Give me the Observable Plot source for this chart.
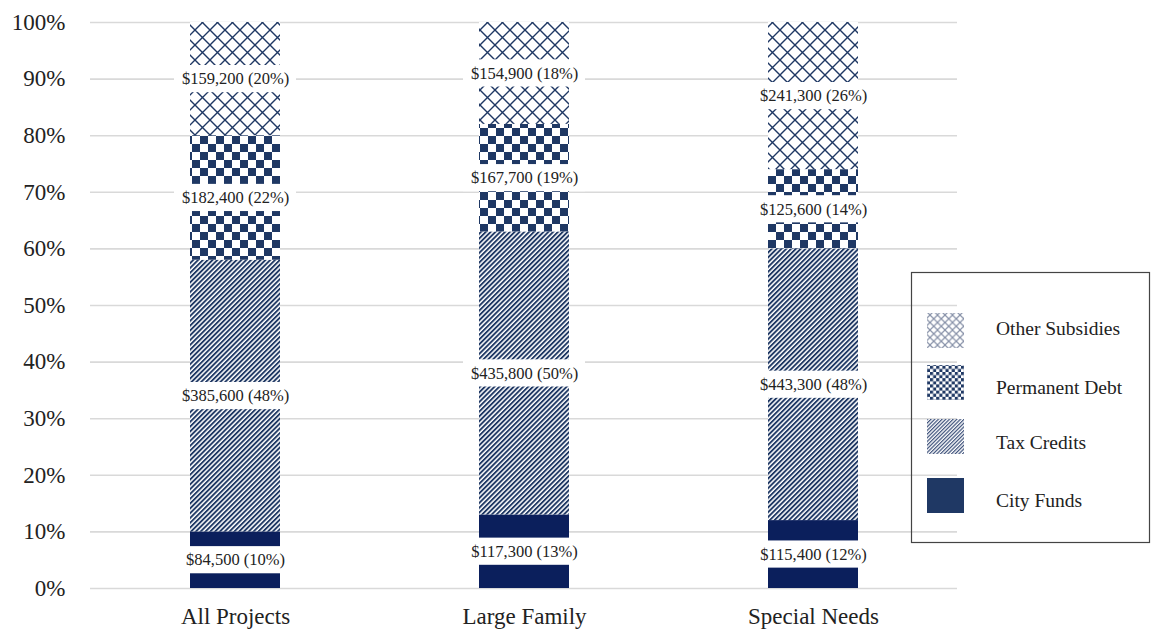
<!DOCTYPE html>
<html><head><meta charset="utf-8">
<script src="https://cdn.jsdelivr.net/npm/d3@7"></script>
<script src="https://cdn.jsdelivr.net/npm/@observablehq/plot@0.6"></script>
<style>
body{margin:0;background:#fff;}
#chart{position:relative;width:1152px;height:634px;}
</style></head><body><div id="chart"></div>
<script>
// ---- data ----
const categories = ["All Projects", "Large Family", "Special Needs"];
const seriesNames = ["City Funds", "Tax Credits", "Permanent Debt", "Other Subsidies"];
const cityFunds = [84500, 117300, 115400];
const cityPct = [10, 13, 12];
const taxCredits = [385600, 435800, 443300];
const taxPct = [48, 50, 48];
const permanentDebt = [182400, 167700, 125600];
const permanentPct = [22, 19, 14];
const otherSubsidies = [159200, 154900, 241300];
const otherPct = [20, 18, 26];
const yTicks = [0, 10, 20, 30, 40, 50, 60, 70, 80, 90, 100];

const amountsBySeries = [cityFunds, taxCredits, permanentDebt, otherSubsidies];
const pctBySeries = [cityPct, taxPct, permanentPct, otherPct];
const fills = ["#0b1f5c", "url(#pTax)", "url(#pPerm)", "url(#pOther)"];
const legendFills = ["#1f3864", "url(#lTax)", "url(#lPerm)", "url(#lOther)"];

const rows = [];
categories.forEach((c, i) => {
  let acc = 0;
  seriesNames.forEach((s, j) => {
    const p = pctBySeries[j][i];
    rows.push({category: c, series: s, si: j, amount: amountsBySeries[j][i], pct: p, y1: acc, y2: acc + p, mid: acc + p / 2});
    acc += p;
  });
});

const font = "'Liberation Serif', 'Times New Roman', serif";
const marks = [
  Plot.ruleY(yTicks, {stroke: "#d9d9d9", strokeWidth: 1.6})
];
seriesNames.forEach((s, j) => {
  marks.push(Plot.barY(rows.filter(d => d.si === j), {x: "category", y1: "y1", y2: "y2", fill: fills[j]}));
});
marks.push(
  Plot.barY(rows, {x: "category", y1: d => d.mid - 2.4, y2: d => d.mid + 2.4, fill: "white", insetLeft: -16, insetRight: -16}),
  Plot.text(rows, {x: "category", y: "mid", text: d => "$" + d3.format(",")(d.amount) + " (" + d.pct + "%)", fontSize: 16.5, fill: "#222"}),
  Plot.axisY({ticks: yTicks, tickSize: 0, tickPadding: 25, tickFormat: d => d + "%", fontSize: 23, label: null, color: "#222"}),
  Plot.axisX({tickSize: 0, tickPadding: 19, fontSize: 23, label: null, color: "#222"})
);

const svg = Plot.plot({
  width: 1152, height: 634,
  marginLeft: 90, marginRight: 195, marginTop: 22, marginBottom: 46,
  style: {fontFamily: font, background: "white", color: "#222"},
  x: {domain: categories, paddingInner: 0.69, paddingOuter: 0.345, label: null},
  y: {domain: [0, 100], label: null},
  marks
});

// ---- patterns ----
const navy = "#1f3864";
const defs = d3.select(svg).insert("defs", ":first-child");
function stripes(id, w, sw, color) {
  const p = defs.append("pattern").attr("id", id).attr("patternUnits", "userSpaceOnUse")
    .attr("width", w).attr("height", w).attr("patternTransform", "rotate(45)");
  p.append("rect").attr("width", w).attr("height", w).attr("fill", "white");
  p.append("rect").attr("width", sw).attr("height", w).attr("fill", color);
}
function checker(id, s, color) {
  const p = defs.append("pattern").attr("id", id).attr("patternUnits", "userSpaceOnUse")
    .attr("width", 2 * s).attr("height", 2 * s);
  p.append("rect").attr("width", 2 * s).attr("height", 2 * s).attr("fill", "white");
  p.append("rect").attr("width", s).attr("height", s).attr("fill", color);
  p.append("rect").attr("x", s).attr("y", s).attr("width", s).attr("height", s).attr("fill", color);
}
function lattice(id, s, sw, color) {
  const p = defs.append("pattern").attr("id", id).attr("patternUnits", "userSpaceOnUse")
    .attr("width", s).attr("height", s);
  p.append("rect").attr("width", s).attr("height", s).attr("fill", "white");
  p.append("path").attr("d", `M0,0L${s},${s}M${s},0L0,${s}`).attr("stroke", color).attr("stroke-width", sw).attr("fill", "none");
}
stripes("pTax", 3.4, 1.9, navy);
checker("pPerm", 8, navy);
lattice("pOther", 15, 1.4, navy);
stripes("lTax", 2.6, 1.2, "#3a4e78");
checker("lPerm", 3.1, navy);
lattice("lOther", 7.5, 1.2, "#8791a8");

// ---- legend ----
const lg = d3.select(svg).append("g").attr("font-family", font).attr("text-anchor", "start");
lg.append("rect").attr("x", 911.5).attr("y", 272.5).attr("width", 238).attr("height", 270)
  .attr("fill", "none").attr("stroke", "#444").attr("stroke-width", 1.2);
const legendOrder = [3, 2, 1, 0];
const swatchY = [313, 365, 419, 478];
const textY = [328, 387, 442, 500];
legendOrder.forEach((j, k) => {
  lg.append("rect").attr("x", 927).attr("y", swatchY[k]).attr("width", 37).attr("height", 35).attr("fill", legendFills[j]);
  lg.append("text").attr("x", 996).attr("y", textY[k]).attr("dy", "0.35em").attr("text-anchor", "start")
    .attr("font-size", 19.5).attr("fill", "#222").text(seriesNames[j]);
});

document.getElementById("chart").appendChild(svg);
</script></body></html>
